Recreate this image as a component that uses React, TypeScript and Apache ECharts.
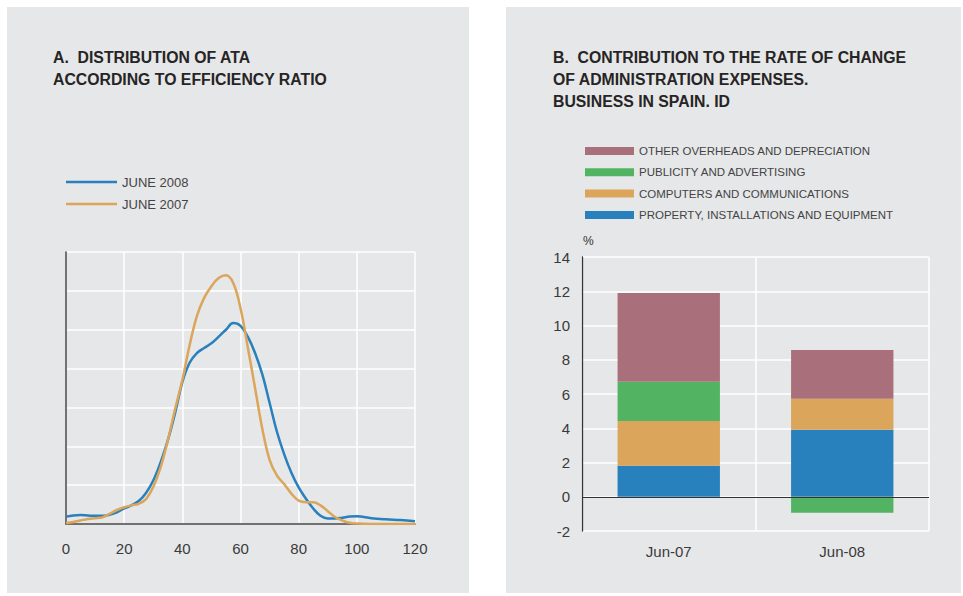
import React, { useEffect, useRef } from "react";
import * as echarts from "echarts";

// ---- Chart A data ----
const xValues = [0, 2.5, 5, 7.5, 10, 12.5, 15, 17.5, 20, 22.5, 25, 27.5, 30, 32.5, 35, 37.5, 40, 42.5, 45, 47.5, 50, 52.5, 55, 57.5, 60, 62.5, 65, 67.5, 70, 72.5, 75, 77.5, 80, 82.5, 85, 87.5, 90, 92.5, 95, 97.5, 100, 105, 110, 115, 120];
const june2008 = [0.19, 0.22, 0.23, 0.22, 0.21, 0.21, 0.24, 0.3, 0.4, 0.48, 0.59, 0.8, 1.12, 1.58, 2.15, 2.85, 3.65, 4.15, 4.4, 4.53, 4.65, 4.82, 5.0, 5.17, 5.1, 4.82, 4.4, 3.85, 3.12, 2.38, 1.8, 1.32, 0.94, 0.65, 0.4, 0.21, 0.14, 0.14, 0.16, 0.19, 0.2, 0.15, 0.12, 0.1, 0.07];
const june2007 = [0.02, 0.05, 0.09, 0.13, 0.15, 0.17, 0.26, 0.36, 0.43, 0.48, 0.52, 0.64, 0.95, 1.45, 2.15, 2.95, 3.7, 4.6, 5.35, 5.82, 6.12, 6.33, 6.4, 6.2, 5.55, 4.55, 3.5, 2.45, 1.65, 1.25, 1.03, 0.78, 0.6, 0.56, 0.56, 0.48, 0.33, 0.18, 0.09, 0.03, 0.01, 0, 0, 0, 0];
const xTicks = [0, 20, 40, 60, 80, 100, 120];

// ---- Chart B data ----
const periods = ["Jun-07", "Jun-08"];
const property = [1.81, 3.91];
const computers = [2.62, 1.81];
const publicity = [2.28, -0.93];
const otherOverheads = [5.19, 2.85];
const yTicksB = [-2, 0, 2, 4, 6, 8, 10, 12, 14];

const SERIES_A = ["JUNE 2008", "JUNE 2007"];
const SERIES_B = [
  "OTHER OVERHEADS AND DEPRECIATION",
  "PUBLICITY AND ADVERTISING",
  "COMPUTERS AND COMMUNICATIONS",
  "PROPERTY, INSTALLATIONS AND EQUIPMENT",
];

const FONT = "'Liberation Sans', Arial, Helvetica, sans-serif";
const BLUE = "#2880bc";
const ORANGE = "#dba55b";
const GREEN = "#52b463";
const PURPLE = "#a9707b";
const PANEL = "#e6e7e8";

export default function App() {
  const ref = useRef<HTMLDivElement>(null);

  useEffect(() => {
    if (!ref.current) return;
    const chart = echarts.init(ref.current, null, { renderer: "svg" });

    const titleStyle = {
      fontFamily: FONT,
      fontSize: 15.8,
      fontWeight: "bold" as const,
      color: "#262425",
      lineHeight: 22.3,
    };
    const axisLabel = { fontFamily: FONT, fontSize: 15, color: "#3a3a3a" };

    chart.setOption({
      animation: false,
      backgroundColor: "#ffffff",
      graphic: [
        { type: "rect", z: -10, shape: { x: 7, y: 7, width: 462, height: 586 }, style: { fill: PANEL } },
        { type: "rect", z: -10, shape: { x: 506, y: 7, width: 455, height: 586 }, style: { fill: PANEL } },
        {
          type: "text",
          left: 583,
          top: 235,
          style: { text: "%", fontFamily: FONT, fontSize: 12, fill: "#333" },
        },
      ],
      title: [
        {
          text: "A.  DISTRIBUTION OF ATA\nACCORDING TO EFFICIENCY RATIO",
          left: 53,
          top: 46,
          padding: 0,
          textStyle: titleStyle,
        },
        {
          text: "B.  CONTRIBUTION TO THE RATE OF CHANGE\nOF ADMINISTRATION EXPENSES.\nBUSINESS IN SPAIN. ID",
          left: 553,
          top: 46,
          padding: 0,
          textStyle: titleStyle,
        },
      ],
      legend: [
        {
          data: SERIES_A,
          orient: "vertical",
          left: 66,
          top: 175,
          padding: 0,
          itemWidth: 51,
          itemHeight: 2.5,
          itemGap: 8,
          icon: "rect",
          textStyle: { fontFamily: FONT, fontSize: 13, color: "#444", lineHeight: 14 },
        },
        {
          data: SERIES_B,
          orient: "vertical",
          left: 585,
          top: 144,
          padding: 0,
          itemWidth: 49,
          itemHeight: 8,
          itemGap: 7.3,
          icon: "rect",
          textStyle: { fontFamily: FONT, fontSize: 11.5, color: "#444", lineHeight: 14 },
        },
      ],
      grid: [
        { left: 66, top: 252, width: 349, height: 272 },
        { left: 582, top: 257, width: 347, height: 274 },
      ],
      xAxis: [
        {
          gridIndex: 0,
          type: "value",
          min: xTicks[0],
          max: xTicks[xTicks.length - 1],
          interval: 20,
          axisLine: { show: true, lineStyle: { color: "#444", width: 1.5 } },
          axisTick: { show: false },
          axisLabel: { ...axisLabel, margin: 17 },
          splitLine: { show: true, lineStyle: { color: "#ffffff", width: 1.5 } },
        },
        {
          gridIndex: 1,
          type: "category",
          data: periods,
          axisLine: { show: false },
          axisTick: { show: false },
          axisLabel: { ...axisLabel, margin: 13 },
          splitLine: { show: true, lineStyle: { color: "#ffffff", width: 1.5 } },
        },
      ],
      yAxis: [
        {
          gridIndex: 0,
          type: "value",
          min: 0,
          max: 7,
          interval: 1,
          axisLine: { show: true, lineStyle: { color: "#444", width: 1.5 } },
          axisTick: { show: false },
          axisLabel: { show: false },
          splitLine: { show: true, lineStyle: { color: "#ffffff", width: 1.5 } },
        },
        {
          gridIndex: 1,
          type: "value",
          min: yTicksB[0],
          max: yTicksB[yTicksB.length - 1],
          interval: 2,
          axisLine: { show: true, lineStyle: { color: "#333", width: 1.3 } },
          axisTick: { show: false },
          axisLabel: { ...axisLabel, margin: 12 },
          splitLine: { show: true, lineStyle: { color: "#ffffff", width: 1.5 } },
        },
      ],
      series: [
        {
          name: SERIES_A[0],
          type: "line",
          xAxisIndex: 0,
          yAxisIndex: 0,
          data: xValues.map((x, i) => [x, june2008[i]]),
          smooth: 0.4,
          symbol: "none",
          lineStyle: { color: BLUE, width: 2.5 },
          itemStyle: { color: BLUE },
          z: 3,
        },
        {
          name: SERIES_A[1],
          type: "line",
          xAxisIndex: 0,
          yAxisIndex: 0,
          data: xValues.map((x, i) => [x, june2007[i]]),
          smooth: 0.4,
          symbol: "none",
          lineStyle: { color: ORANGE, width: 2.5 },
          itemStyle: { color: ORANGE },
          z: 4,
        },
        {
          name: SERIES_B[3],
          type: "bar",
          xAxisIndex: 1,
          yAxisIndex: 1,
          stack: "b",
          barWidth: "59%",
          data: property,
          itemStyle: { color: BLUE },
          markLine: {
            silent: true,
            symbol: ["none", "none"],
            label: { show: false },
            lineStyle: { color: "#333", width: 1.2, type: "solid" },
            data: [{ yAxis: 0 }],
            z: 10,
          },
        },
        {
          name: SERIES_B[2],
          type: "bar",
          xAxisIndex: 1,
          yAxisIndex: 1,
          stack: "b",
          barWidth: "59%",
          data: computers,
          itemStyle: { color: ORANGE },
        },
        {
          name: SERIES_B[1],
          type: "bar",
          xAxisIndex: 1,
          yAxisIndex: 1,
          stack: "b",
          barWidth: "59%",
          data: publicity,
          itemStyle: { color: GREEN },
        },
        {
          name: SERIES_B[0],
          type: "bar",
          xAxisIndex: 1,
          yAxisIndex: 1,
          stack: "b",
          barWidth: "59%",
          data: otherOverheads,
          itemStyle: { color: PURPLE },
        },
      ],
    });

    return () => chart.dispose();
  }, []);

  return (
    <div
      ref={ref}
      style={{ position: "absolute", left: 0, top: 0, width: 963, height: 596 }}
    />
  );
}
